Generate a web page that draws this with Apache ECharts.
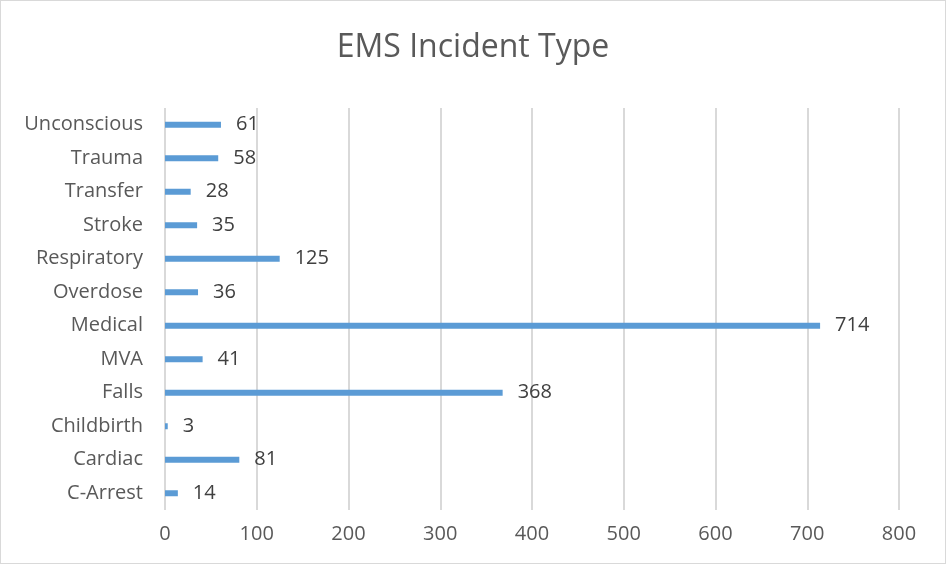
<!DOCTYPE html>
<html>
<head>
<meta charset="utf-8">
<script src="https://cdn.jsdelivr.net/npm/echarts@6/dist/echarts.min.js"></script>
<style>
  html, body { margin: 0; padding: 0; background: #fff; }
  #chart {
    width: 946px;
    height: 564px;
    box-sizing: border-box;
    border: 1px solid #d9d9d9;
  }
</style>
</head>
<body>
<div id="chart"></div>
<script>
// categories listed bottom to top
const categories = ['C-Arrest', 'Cardiac', 'Childbirth', 'Falls', 'MVA', 'Medical',
  'Overdose', 'Respiratory', 'Stroke', 'Transfer', 'Trauma', 'Unconscious'];
const incidents = [14, 81, 3, 368, 41, 714, 36, 125, 35, 28, 58, 61];
const xTicks = { min: 0, max: 800, interval: 100 };

let myChart = echarts.init(document.getElementById('chart'));

let option = {
  animation: false,
  title: {
    text: 'EMS Incident Type',
    left: 'center',
    top: 26,
    textStyle: {
      fontFamily: 'Open Sans',
      fontSize: 32,
      fontWeight: 'normal',
      color: '#595959'
    }
  },
  grid: {
    left: 164,
    right: 46,
    top: 107,
    bottom: 53
  },
  xAxis: {
    type: 'value',
    min: xTicks.min,
    max: xTicks.max,
    interval: xTicks.interval,
    axisLine: { show: false },
    axisTick: { show: false },
    axisLabel: {
      fontFamily: 'Open Sans',
      fontSize: 20,
      color: '#595959',
      margin: 14
    },
    splitLine: { lineStyle: { color: '#d9d9d9', width: 2 } }
  },
  yAxis: {
    type: 'category',
    data: categories,
    axisLine: { show: false },
    axisTick: { show: false },
    axisLabel: {
      fontFamily: 'Open Sans',
      fontSize: 20,
      color: '#595959',
      margin: 22
    }
  },
  series: [
    {
      name: 'Incidents',
      type: 'bar',
      data: incidents,
      barWidth: 6,
      itemStyle: { color: '#5b9bd5' },
      label: {
        show: true,
        position: 'right',
        distance: 15,
        fontFamily: 'Open Sans',
        fontSize: 20,
        color: '#404040'
      }
    }
  ]
};

myChart.setOption(option);
</script>
</body>
</html>
